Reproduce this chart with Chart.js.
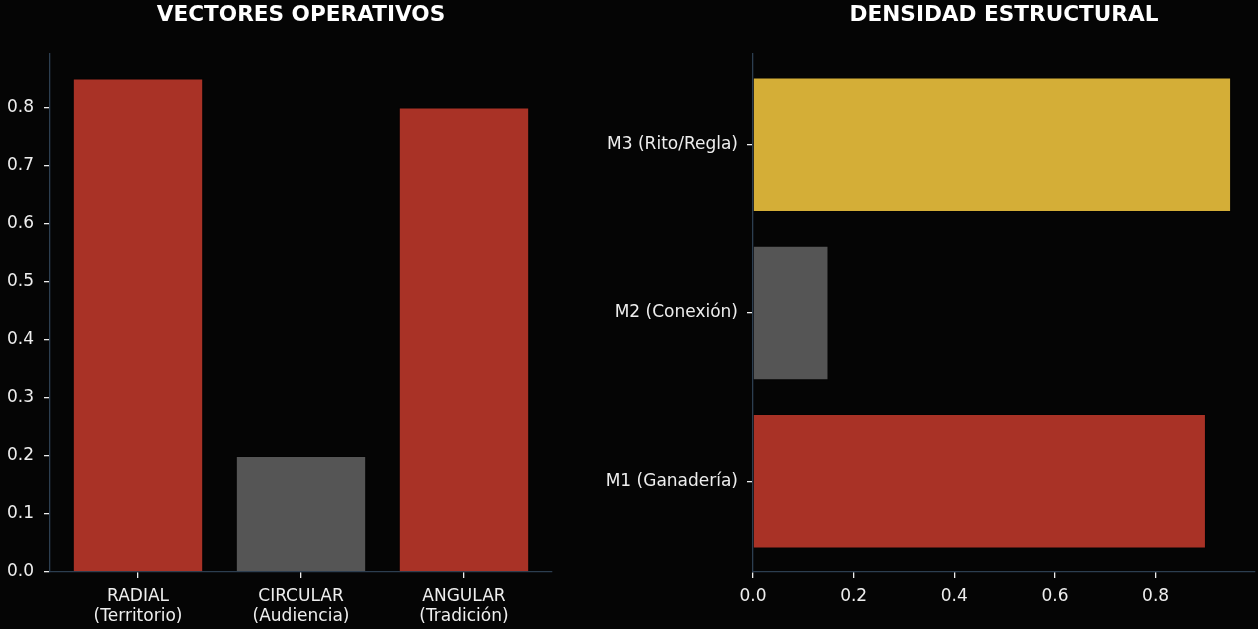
<!DOCTYPE html>
<html>
<head>
<meta charset="utf-8">
<script src="https://cdn.jsdelivr.net/npm/chart.js@4.4.0/dist/chart.umd.min.js"></script>
<style>
  html, body { margin: 0; padding: 0; background: #050505; overflow: hidden; }
  #wrap { position: relative; width: 1258px; height: 629px; }
  canvas { position: absolute; top: 0; }
</style>
</head>
<body>
<div id="wrap">
  <canvas id="chartVectores" width="629" height="629" style="left:0"></canvas>
  <canvas id="chartDensidad" width="698" height="629" style="left:560px"></canvas>
</div>
<script>
// datos
var vectorLabels = [["RADIAL", "(Territorio)"], ["CIRCULAR", "(Audiencia)"], ["ANGULAR", "(Tradición)"]];
var vectorValues = [0.85, 0.2, 0.8];
var vectorColors = ["#a93226", "#555555", "#a93226"];

var densidadLabels = ["M1 (Ganadería)", "M2 (Conexión)", "M3 (Rito/Regla)"];
var densidadValues = [0.9, 0.15, 0.95];
var densidadColors = ["#a93226", "#555555", "#d4ae37"];

Chart.defaults.font.family = "DejaVu Sans";
Chart.defaults.color = "#eeeeee";

var spine = "#2c3e50";
var tickFont = { size: 17 };
var titleFont = { size: 21.6, weight: "bold" };

function pts(values, horizontal) {
  return values.map(function (v, i) {
    return horizontal ? { x: v, y: i } : { x: i, y: v };
  });
}

function fixW(w) { return function (s) { s.width = w; }; }
function fixH(h) { return function (s) { s.height = h; }; }

var baseGrid = { display: true, offset: false, drawOnChartArea: false, drawTicks: true, tickLength: 6, lineWidth: 1.3, color: "#eeeeee" };

var chartVectores = new Chart(document.getElementById("chartVectores"), {
  type: "bar",
  data: {
    datasets: [{
      data: pts(vectorValues, false),
      backgroundColor: vectorColors,
      borderColor: "rgba(0,0,0,0.35)",
      borderWidth: 1,
      barPercentage: 0.8,
      categoryPercentage: 1
    }]
  },
  options: {
    responsive: false,
    animation: false,
    layout: { padding: { left: 0, right: 77, top: 0, bottom: 0 } },
    plugins: {
      legend: { display: false },
      tooltip: { enabled: false },
      title: {
        display: true,
        fullSize: false,
        text: "VECTORES OPERATIVOS",
        color: "#ffffff",
        font: titleFont,
        padding: { top: 2, bottom: 26 }
      }
    },
    scales: {
      x: {
        type: "linear",
        offset: false,
        min: -0.54,
        max: 2.54,
        afterFit: fixH(57),
        grid: baseGrid,
        border: { display: true, color: spine, width: 1.3 },
        ticks: {
          stepSize: 1,
          includeBounds: false,
          font: tickFont,
          padding: 8,
          maxRotation: 0,
          callback: function (v) { return Number.isInteger(v) ? vectorLabels[v] : ""; }
        }
      },
      y: {
        type: "linear",
        min: 0,
        max: 0.8925,
        afterFit: fixW(50),
        grid: baseGrid,
        border: { display: true, color: spine, width: 1.3 },
        ticks: {
          stepSize: 0.1,
          includeBounds: false,
          font: tickFont,
          padding: 10,
          callback: function (v) { return v.toFixed(1); }
        }
      }
    }
  }
});

var chartDensidad = new Chart(document.getElementById("chartDensidad"), {
  type: "bar",
  data: {
    datasets: [{
      data: pts(densidadValues, true),
      backgroundColor: densidadColors,
      borderColor: "rgba(0,0,0,0.35)",
      borderWidth: 1,
      barPercentage: 0.8,
      categoryPercentage: 1
    }]
  },
  options: {
    indexAxis: "y",
    responsive: false,
    animation: false,
    layout: { padding: { left: 0, right: 3, top: 0, bottom: 0 } },
    plugins: {
      legend: { display: false },
      tooltip: { enabled: false },
      title: {
        display: true,
        fullSize: false,
        text: "DENSIDAD ESTRUCTURAL",
        color: "#ffffff",
        font: titleFont,
        padding: { top: 2, bottom: 26 }
      }
    },
    scales: {
      x: {
        type: "linear",
        min: 0,
        max: 0.9975,
        afterFit: fixH(57),
        grid: baseGrid,
        border: { display: true, color: spine, width: 1.3 },
        ticks: {
          stepSize: 0.2,
          includeBounds: false,
          font: tickFont,
          padding: 8,
          maxRotation: 0,
          callback: function (v) { return v.toFixed(1); }
        }
      },
      y: {
        type: "linear",
        offset: false,
        min: -0.54,
        max: 2.54,
        afterFit: fixW(193),
        grid: baseGrid,
        border: { display: true, color: spine, width: 1.3 },
        ticks: {
          stepSize: 1,
          includeBounds: false,
          font: tickFont,
          padding: 9,
          callback: function (v) { return Number.isInteger(v) ? densidadLabels[v] : ""; }
        }
      }
    }
  }
});
</script>
</body>
</html>
